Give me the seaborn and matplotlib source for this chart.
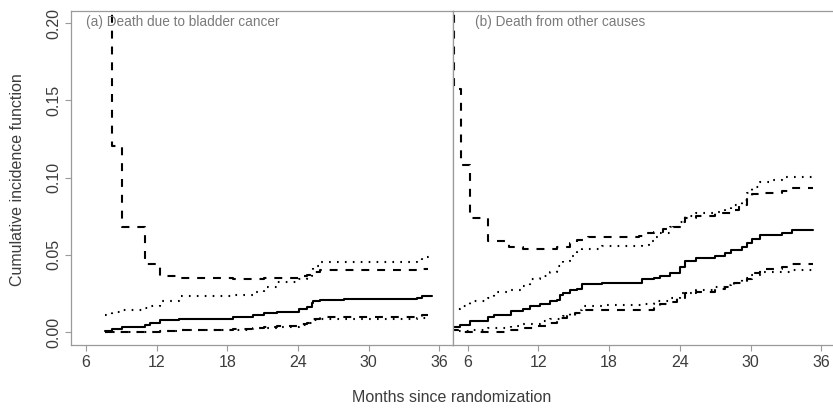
import matplotlib
matplotlib.use("Agg")
import matplotlib.pyplot as plt
import seaborn as sns
import numpy as np

# ---- data: panel (a) death due to bladder cancer ----
a_est_t = [7.64, 8.2, 9.06, 11.04, 11.46, 12.3, 13.9, 18.5, 20.2, 21.1, 22.2, 24.06, 24.8, 25.2, 25.3, 25.9, 27.9, 34.1, 34.5, 35.4]
a_est_v = [0.0004, 0.002, 0.003, 0.0043, 0.0058, 0.0075, 0.0086, 0.010, 0.011, 0.0123, 0.013, 0.015, 0.016, 0.019, 0.020, 0.021, 0.0213, 0.022, 0.023, 0.023]

a_dash_hi_t = [7.64, 8.2, 9.06, 11.04, 12.3, 13.9, 18.5, 21.1, 24.06, 24.8, 25.2, 25.9, 34.1, 34.5, 35.0]
a_dash_hi_v = [0.5, 0.1205, 0.068, 0.0440, 0.036, 0.035, 0.034, 0.035, 0.036, 0.037, 0.039, 0.040, 0.040, 0.041, 0.041]

a_dash_lo_t = [7.64, 12.3, 13.9, 18.5, 20.2, 21.1, 22.2, 24.06, 24.8, 25.2, 25.9, 34.1, 34.5, 35.0]
a_dash_lo_v = [0.0, 0.0005, 0.0012, 0.0018, 0.0025, 0.0035, 0.0042, 0.0050, 0.0060, 0.0085, 0.0095, 0.010, 0.011, 0.011]

a_dot_hi_t = [7.64, 8.2, 9.06, 11.04, 11.46, 12.3, 13.9, 18.5, 20.2, 21.1, 22.2, 24.06, 24.8, 25.2, 25.3, 25.9, 34.1, 34.5, 35.3]
a_dot_hi_v = [0.0112, 0.0127, 0.014, 0.0157, 0.017, 0.0198, 0.0231, 0.024, 0.026, 0.0293, 0.0325, 0.034, 0.036, 0.0403, 0.0425, 0.0455, 0.046, 0.0485, 0.0485]

a_dot_lo_t = [7.64, 12.3, 13.9, 18.5, 20.2, 22.2, 24.06, 24.8, 25.2, 25.9, 34.1, 35.3]
a_dot_lo_v = [0.0, 0.0008, 0.0012, 0.0016, 0.0025, 0.003, 0.0045, 0.006, 0.0075, 0.0082, 0.0088, 0.0088]

# ---- data: panel (b) death from other causes ----
b_est_t = [4.6, 5.35, 6.2, 7.75, 8.2, 9.7, 10.7, 11.3, 12.1, 13.0, 13.6, 13.8, 14.1, 14.7, 15.3, 15.7, 17.4, 20.8, 21.8, 22.3,
           23.2, 24.0, 24.45, 25.4, 27.0, 27.8, 28.3, 29.3, 29.7, 30.1, 30.8, 32.7, 33.5, 35.3]
b_est_v = [0.0032, 0.0047, 0.0073, 0.0097, 0.011, 0.0134, 0.015, 0.0166, 0.0183, 0.0198, 0.021, 0.024, 0.0255, 0.027, 0.028,
           0.031, 0.032, 0.034, 0.035, 0.036, 0.038, 0.042, 0.0457, 0.048, 0.049, 0.051, 0.053, 0.055, 0.0575, 0.060, 0.063,
           0.0644, 0.066, 0.066]

b_dash_hi_t = [4.6, 4.85, 5.45, 6.2, 7.75, 9.5, 10.7, 13.0, 13.6, 14.7, 15.3, 16.2, 20.5, 21.1, 21.8, 22.6, 23.4, 24.0, 24.45,
               25.4, 27.0, 28.3, 29.0, 29.7, 30.1, 30.8, 32.7, 33.5, 35.3]
b_dash_hi_v = [0.5, 0.157, 0.108, 0.0737, 0.0586, 0.055, 0.0537, 0.054, 0.055, 0.0575, 0.0597, 0.0614, 0.0623, 0.064, 0.065,
               0.0666, 0.068, 0.071, 0.0737, 0.075, 0.077, 0.079, 0.082, 0.086, 0.0894, 0.090, 0.0915, 0.093, 0.093]

b_dash_lo_t = [4.6, 5.2, 9.5, 10.7, 11.8, 12.7, 13.6, 13.9, 14.4, 15.1, 15.6, 20.8, 21.8, 22.3, 23.2, 23.8, 24.45, 25.4, 27.0,
               27.8, 28.6, 29.7, 30.1, 30.8, 32.7, 33.5, 35.3]
b_dash_lo_v = [0.0015, 0.0003, 0.0015, 0.0026, 0.004, 0.0058, 0.007, 0.009, 0.0106, 0.0123, 0.014, 0.0145, 0.016, 0.018,
               0.0195, 0.022, 0.025, 0.026, 0.028, 0.029, 0.032, 0.034, 0.038, 0.041, 0.042, 0.044, 0.044]

b_dot_hi_t = [4.6, 5.35, 6.2, 7.75, 8.2, 9.7, 10.7, 11.3, 12.1, 13.0, 13.6, 14.1, 14.7, 15.3, 15.7, 17.4, 20.8, 21.4, 21.8,
              22.3, 23.2, 23.9, 24.45, 25.4, 27.0, 27.8, 28.3, 29.3, 29.7, 30.1, 30.8, 31.9, 32.7, 35.3]
b_dot_hi_v = [0.0149, 0.0166, 0.0198, 0.022, 0.026, 0.027, 0.0295, 0.034, 0.036, 0.039, 0.0425, 0.0457, 0.049, 0.052, 0.054,
              0.0558, 0.0565, 0.0586, 0.0614, 0.064, 0.068, 0.071, 0.0748, 0.077, 0.078, 0.0795, 0.082, 0.0856, 0.0899,
              0.0937, 0.0968, 0.0985, 0.1006, 0.1006]

b_dot_lo_t = [4.6, 6.2, 7.75, 9.7, 10.7, 12.1, 13.0, 14.1, 14.7, 15.3, 15.7, 17.4, 20.8, 21.8, 23.2, 24.0, 25.4, 27.0, 27.8,
              28.3, 29.3, 30.0, 30.8, 32.0, 33.5, 35.3]
b_dot_lo_v = [0.0008, 0.0015, 0.0026, 0.004, 0.0052, 0.0069, 0.0085, 0.0106, 0.0125, 0.0144, 0.0166, 0.0177, 0.0183, 0.020,
              0.022, 0.025, 0.027, 0.029, 0.0306, 0.032, 0.035, 0.037, 0.0386, 0.039, 0.0399, 0.0399]

x_ticks = [6, 12, 18, 24, 30, 36]
y_ticks = [0.00, 0.05, 0.10, 0.15, 0.20]
y_tick_labels = ["0.00", "0.05", "0.10", "0.15", "0.20"]
panel_titles = ["(a) Death due to bladder cancer", "(b) Death from other causes"]

sns.set_style("white")
plt.rcParams["font.family"] = ["Liberation Sans", "DejaVu Sans"]

fig = plt.figure(figsize=(8.33, 4.12), dpi=100)
W, H = 833.0, 412.0
bottom = 1 - 345 / H
height = (345 - 11) / H
axA = fig.add_axes([71 / W, bottom, (453 - 71) / W, height])
axB = fig.add_axes([453 / W, bottom, (834 - 453) / W, height])

LW = 1.5
DASH = (0, (3.8, 3.8))
DOT = (0, (0.8, 3.0))
SPINE = "#9a9a9a"
TXT = "#3c3c3c"

panels = [
    (axA, [(a_est_t, a_est_v, "-"), (a_dash_hi_t, a_dash_hi_v, DASH), (a_dash_lo_t, a_dash_lo_v, DASH),
           (a_dot_hi_t, a_dot_hi_v, DOT), (a_dot_lo_t, a_dot_lo_v, DOT)], (4.73, 37.15), 0.039),
    (axB, [(b_est_t, b_est_v, "-"), (b_dash_hi_t, b_dash_hi_v, DASH), (b_dash_lo_t, b_dash_lo_v, DASH),
           (b_dot_hi_t, b_dot_hi_v, DOT), (b_dot_lo_t, b_dot_lo_v, DOT)], (4.75, 37.08), 0.058),
]

for i, (ax, series, xl, tx) in enumerate(panels):
    for t, v, ls in series:
        sns.lineplot(x=t, y=v, ax=ax, color="black", linewidth=LW, linestyle=ls,
                     drawstyle="steps-post", estimator=None, sort=False)
    ax.set_xlim(*xl)
    ax.set_ylim(-0.0084, 0.2078)
    ax.set_xticks(x_ticks)
    ax.set_xticklabels([str(x) for x in x_ticks])
    ax.tick_params(axis="both", direction="out", length=4, width=0.8, color=SPINE,
                   labelsize=11.5, labelcolor=TXT, pad=3, bottom=True, left=(i == 0))
    for s in ax.spines.values():
        s.set_color(SPINE)
        s.set_linewidth(0.9)
    ax.set_xlabel("")
    ax.set_ylabel("")
    ax.text(tx, 0.967, panel_titles[i], transform=ax.transAxes,
            ha="left", va="center", fontsize=9.8, color="#7a7a7a")

axA.set_yticks(y_ticks)
axA.set_yticklabels(y_tick_labels, rotation=90, va="center")
axB.set_yticks(y_ticks)
axB.tick_params(axis="y", left=False, labelleft=False)
axB.spines["right"].set_visible(False)

fig.text(18 / W, 1 - 180 / H, "Cumulative incidence function", rotation=90, ha="center", va="center",
         fontsize=11.5, color=TXT)
fig.text(452 / W, 1 - 398 / H, "Months since randomization", ha="center", va="center",
         fontsize=11.5, color=TXT)

fig.savefig("out.png", dpi=100)
